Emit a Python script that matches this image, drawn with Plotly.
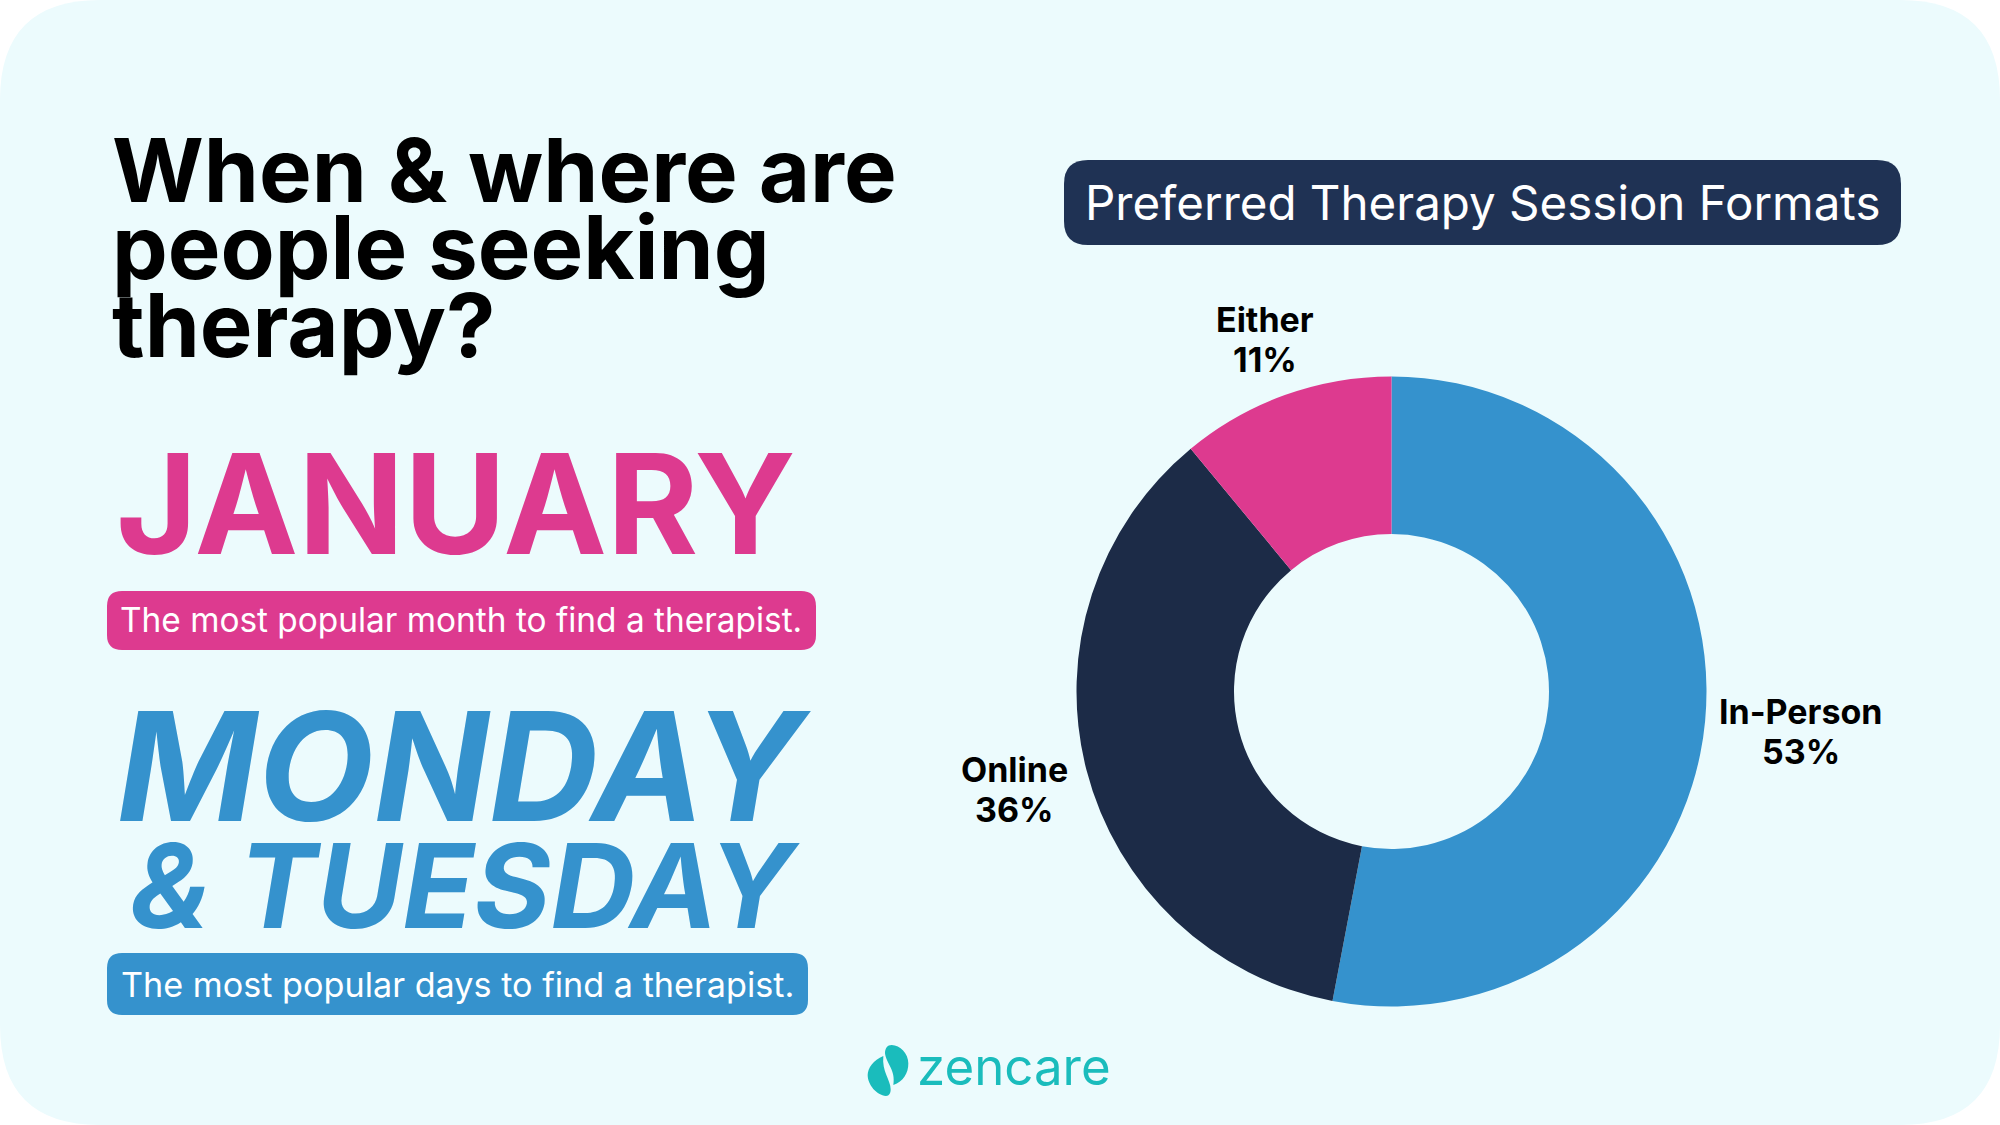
import plotly.graph_objects as go

WIDTH = 2000
HEIGHT = 1125

format_labels = ['In-Person', 'Online', 'Either']
format_values = [53, 36, 11]
format_colors = ['#3592CD', '#1C2B47', '#DD3A8F']

title_lines = ['When & where are', 'people seeking', 'therapy?']
month_name = 'JANUARY'
month_note = 'The most popular month to find a therapist.'
day_names = ['MONDAY', '& TUESDAY']
day_note = 'The most popular days to find a therapist.'
pie_title = 'Preferred Therapy Session Formats'
brand = 'zencare'

BACKGROUND = '#ECFBFD'
PINK = '#DD3A8F'
BLUE = '#3592CD'
NAVY = '#1F3254'
TEAL = '#1ABCBC'


def fx(x):
    return x / WIDTH


def fy(y):
    return 1 - y / HEIGHT


def rounded_box(x0, y0, x1, y1, r, color):
    """Rounded rectangle given in pixels, returned as a paper shape"""
    points = [
        ('M', x0 + r, y0), ('L', x1 - r, y0), ('Q', x1, y0, x1, y0 + r),
        ('L', x1, y1 - r), ('Q', x1, y1, x1 - r, y1), ('L', x0 + r, y1),
        ('Q', x0, y1, x0, y1 - r), ('L', x0, y0 + r), ('Q', x0, y0, x0 + r, y0),
    ]
    path = ''
    for p in points:
        coords = [f'{fx(v)} {fy(w)}' for v, w in zip(p[1::2], p[2::2])]
        path += p[0] + ' ' + ' '.join(coords) + ' '
    return dict(type='path', xref='paper', yref='paper', path=path + 'Z', fillcolor=color, line_width=0, layer='below')


def logo_leaf(start, curves):
    """Closed bezier outline for the logo, points are in a 3x crop from (850, 1030)"""
    def point(p):
        return f'{fx(850 + p[0] / 3)} {fy(1030 + p[1] / 3)}'
    path = 'M ' + point(start)
    for a, b, c in curves:
        path += f' C {point(a)} {point(b)} {point(c)}'
    return dict(type='path', xref='paper', yref='paper', path=path + ' Z', fillcolor=TEAL, line_width=0, layer='above')


def label(text, x, y, size, color='#000000', weight=400, anchor='left', style='normal', family='Inter'):
    """Text with its vertical middle at y pixels"""
    return dict(text=text, x=fx(x), y=fy(y), xref='paper', yref='paper', xanchor=anchor, yanchor='middle',
                showarrow=False, borderpad=0, font=dict(family=family, size=size, color=color, weight=weight, style=style))


fig = go.Figure()

cx, cy, radius = 1391.5, 691.5, 315
fig.add_trace(go.Pie(
    labels=format_labels,
    values=format_values,
    marker=dict(colors=format_colors, line_width=0),
    hole=0.5,
    sort=False,
    direction='clockwise',
    rotation=0,
    textinfo='none',
    showlegend=False,
    domain=dict(x=[fx(cx - radius), fx(cx + radius)], y=[fy(cy + radius), fy(cy - radius)]),
))

shapes = [
    rounded_box(0, 0, WIDTH, HEIGHT, 100, BACKGROUND),
    rounded_box(107, 591, 816, 650, 15, PINK),
    rounded_box(107, 953, 808, 1015, 15, BLUE),
    rounded_box(1064, 160, 1901, 245, 24, NAVY),
    logo_leaf((100, 78), [((70, 90), (53, 115), (53, 135)), ((53, 165), (80, 195), (108, 198)),
                          ((118, 198), (122, 190), (122, 178)), ((122, 150), (95, 125), (100, 78))]),
    logo_leaf((130, 165), [((160, 155), (175, 130), (175, 100)), ((175, 70), (150, 45), (125, 45)),
                           ((112, 45), (105, 55), (105, 70)), ((108, 100), (138, 120), (130, 165))]),
]

annotations = []
for line, y in zip(title_lines, [169, 247, 325]):
    annotations.append(label(line, 111, y, 88.5, weight=700))
annotations.append(label(month_name, 115, 503, 139, PINK, weight=700))
annotations.append(label(month_note, 119, 620, 33.4, '#FFFFFF'))
annotations.append(label(day_names[0], 116, 766, 151, BLUE, weight=700, style='italic'))
annotations.append(label(day_names[1], 129, 885, 117, BLUE, weight=700, style='italic'))
annotations.append(label(day_note, 120, 984, 34.2, '#FFFFFF'))
annotations.append(label(pie_title, 1084, 202, 47.5, '#FFFFFF'))
annotations.append(label(brand, 916, 1066, 51, TEAL))

label_spots = [(1801, 712, 751), (1014, 769, 809), (1265, 319, 359)]
for name, value, (x, y_name, y_value) in zip(format_labels, format_values, label_spots):
    annotations.append(label(name, x, y_name, 34, weight=700, anchor='center'))
    annotations.append(label(f'{value}%', x, y_value, 34, weight=700, anchor='center'))

fig.update_layout(
    width=WIDTH,
    height=HEIGHT,
    margin=dict(l=0, r=0, t=0, b=0, autoexpand=False),
    paper_bgcolor='#FFFFFF',
    plot_bgcolor='rgba(0,0,0,0)',
    shapes=shapes,
    annotations=annotations,
)

fig.write_html("out.html", config={'displayModeBar': False}, post_script="document.body.style.margin='0';")
